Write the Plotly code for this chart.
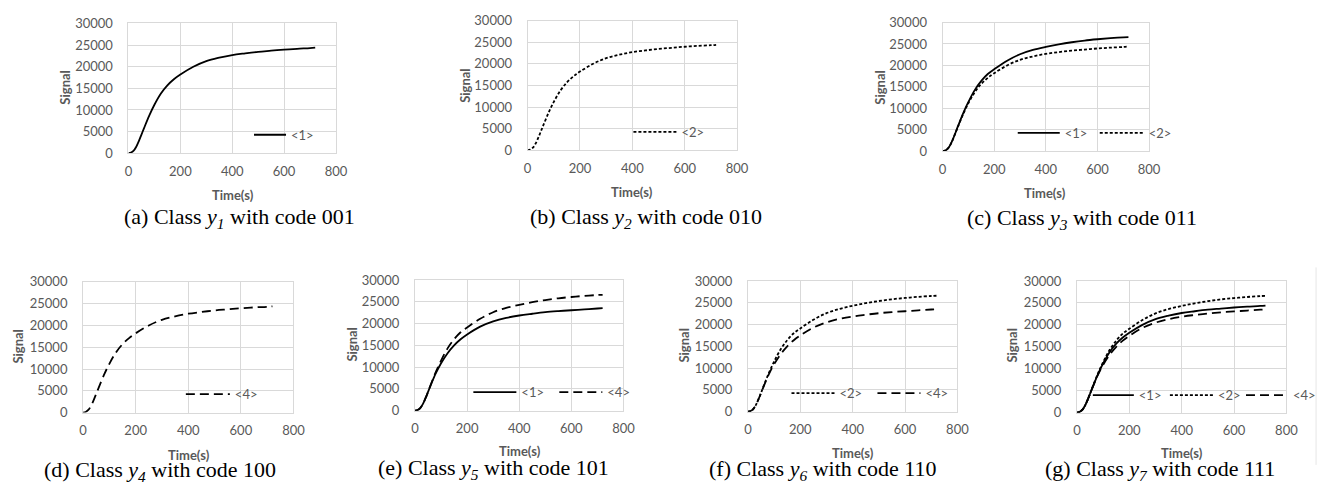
import plotly.graph_objects as go

W, H = 1333, 499

# ---------------- data ----------------
time_s = [0, 10, 20, 30, 40, 50, 60, 80, 100, 125, 150, 175, 200,
          250, 300, 350, 400, 450, 500, 550, 600, 650, 700, 720]

signal_mid = [0, 150, 600, 1500, 2800, 4300, 5800, 8700, 11200, 13800, 15700, 17100, 18200,
              20000, 21300, 22100, 22700, 23100, 23450, 23700, 23950, 24150, 24300, 24400]
signal_high = [0, 150, 600, 1500, 2800, 4300, 5900, 8900, 11500, 14300, 16400, 18000, 19100,
               21100, 22600, 23600, 24300, 24900, 25400, 25800, 26100, 26350, 26550, 26600]
signal_low = [0, 150, 600, 1500, 2800, 4300, 5800, 8600, 10900, 13200, 15000, 16400, 17500,
              19300, 20500, 21300, 21850, 22250, 22600, 22850, 23050, 23250, 23450, 23520]

panel_letters = ["a", "b", "c", "d", "e", "f", "g"]
panel_codes = ["001", "010", "011", "100", "101", "110", "111"]
panel_series = [
    [("<1>", signal_mid)],
    [("<2>", signal_mid)],
    [("<1>", signal_high), ("<2>", signal_mid)],
    [("<4>", signal_mid)],
    [("<1>", signal_low), ("<4>", signal_high)],
    [("<2>", signal_high), ("<4>", signal_low)],
    [("<1>", signal_mid), ("<2>", signal_high), ("<4>", signal_low)],
]
y_ticks = [0, 5000, 10000, 15000, 20000, 25000, 30000]
x_ticks = [0, 200, 400, 600, 800]

# ---------------- layout geometry (pixels) ----------------
# left, right, top, bottom of each plot area
boxes = [
    (126, 336, 16, 150),
    (530, 742, 13, 147),
    (950, 1159, 15, 148),
    (80, 293, 283, 418),
    (416, 627, 281, 416),
    (753, 965, 282, 417),
    (1086, 1298, 282, 418),
]
# legend sample line: (start x, y, length)
legend_pos = [
    [(253, 131, 32)],
    [(637, 128, 43)],
    [(1026, 129, 42), (1109, 129, 44)],
    [(184, 399, 44)],
    [(475, 397, 43), (562, 397, 43)],
    [(797, 398, 43), (884, 398, 43)],
    [(1102, 400, 41), (1180, 400, 43), (1257, 400, 42)],
]
signal_title_pos = [(62, 82), (467, 80), (887, 82), (14, 350), (352, 348), (688, 349), (1020, 349)]
time_title_pos = [(232, 193), (636, 190), (1054, 191), (187, 462), (522, 458), (859, 460), (1192, 460)]
caption_pos = [(238, 217), (650, 217), (1091, 218), (158, 478), (495, 476), (828, 477), (1170, 477)]

dash_style = {"<1>": "solid", "<2>": "3px,2px", "<4>": "9px,5px"}

GRID = "#d9d9d9"
TXT = "#595959"
FONT = "Lato"


def px_x(x):
    return x / W


def px_y(y):
    return 1 - y / H


fig = go.Figure()
layout = dict(
    width=W, height=H,
    margin=dict(l=0, r=0, t=0, b=0),
    paper_bgcolor="white", plot_bgcolor="white",
    showlegend=True,
    font=dict(family=FONT, color=TXT, size=13),
)
annotations = []
legend_index = 0

for i, (letter, code, series) in enumerate(zip(panel_letters, panel_codes, panel_series)):
    n = "" if i == 0 else str(i + 1)
    l, r, t, b = boxes[i]
    layout["xaxis" + n] = dict(
        domain=[px_x(l), px_x(r)], range=[0, 800], anchor="y" + n,
        tickvals=x_ticks, tickformat="d", showgrid=True, gridcolor=GRID, gridwidth=1,
        zeroline=False, showline=True, mirror=True, linecolor=GRID, linewidth=1,
        ticks="", ticklabelstandoff=6, tickfont=dict(family=FONT, size=13, color=TXT),
        fixedrange=True,
    )
    layout["yaxis" + n] = dict(
        domain=[px_y(b), px_y(t)], range=[0, 30000], anchor="x" + n,
        tickvals=y_ticks, tickformat="d", showgrid=True, gridcolor=GRID, gridwidth=1,
        zeroline=False, showline=True, mirror=True, linecolor=GRID, linewidth=1,
        ticks="", ticklabelstandoff=12, tickfont=dict(family=FONT, size=13, color=TXT),
        fixedrange=True,
    )
    for (label, values), (lx, ly, ll) in zip(series, legend_pos[i]):
        legend_index += 1
        lname = "legend" if legend_index == 1 else "legend" + str(legend_index)
        fig.add_trace(go.Scatter(
            x=time_s, y=values, mode="lines",
            name=label.replace("<", "&lt;").replace(">", "&gt;"),
            line=dict(color="black", width=1.8, dash=dash_style[label], shape="spline"),
            xaxis="x" + n, yaxis="y" + n,
            legend=lname, showlegend=True, hoverinfo="skip",
        ))
        layout[lname] = dict(
            x=px_x(lx - 5), y=px_y(ly), xanchor="left", yanchor="middle",
            orientation="h", itemwidth=max(30, ll), bgcolor="rgba(0,0,0,0)", borderwidth=0,
            font=dict(family=FONT, size=13, color=TXT), tracegroupgap=0,
        )
    sx, sy = signal_title_pos[i]
    annotations.append(dict(
        text="<b>Signal</b>", x=px_x(sx), y=px_y(sy), xref="paper", yref="paper",
        showarrow=False, textangle=-90, xanchor="center", yanchor="middle",
        font=dict(family=FONT, size=13, color=TXT),
    ))
    tx, ty = time_title_pos[i]
    annotations.append(dict(
        text="<b>Time(s)</b>", x=px_x(tx), y=px_y(ty), xref="paper", yref="paper",
        showarrow=False, xanchor="center", yanchor="middle",
        font=dict(family=FONT, size=13, color=TXT),
    ))
    cx, cy = caption_pos[i]
    annotations.append(dict(
        text=f"({letter}) Class <i>y</i><sub><i>{i + 1}</i></sub> with code {code}",
        x=px_x(cx), y=px_y(cy), xref="paper", yref="paper",
        showarrow=False, xanchor="center", yanchor="middle",
        font=dict(family="Liberation Serif", size=22, color="black"),
    ))

layout["annotations"] = annotations
layout["shapes"] = [dict(type="line", xref="paper", yref="paper",
                         x0=px_x(1328), x1=px_x(1328), y0=px_y(472), y1=px_y(268),
                         line=dict(color="#e6e6e6", width=1))]
fig.update_layout(**layout)
fig.write_html(
    "out.html",
    config={"displayModeBar": False},
    post_script="document.body.style.margin='0';document.body.style.overflow='hidden';",
)
